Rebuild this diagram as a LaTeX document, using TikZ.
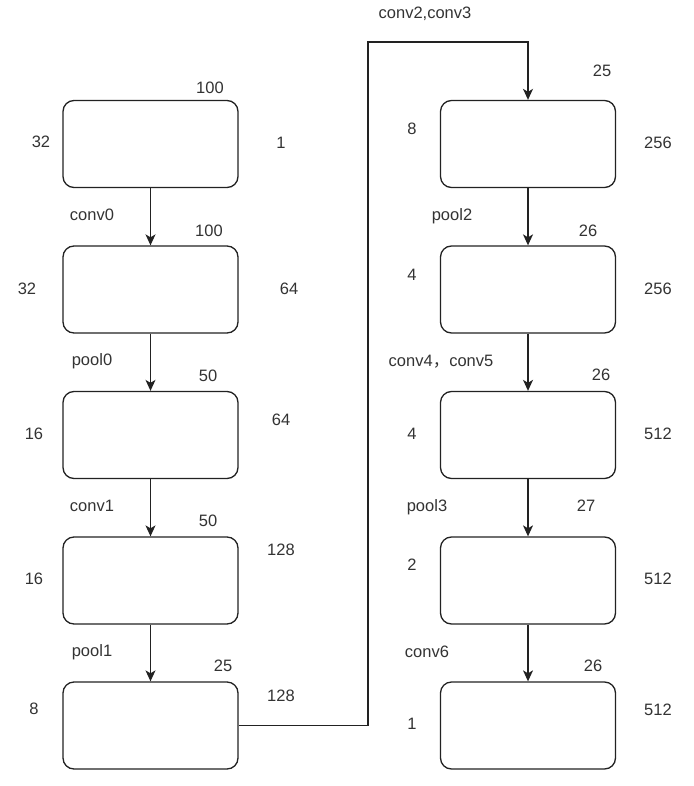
\documentclass[tikz,border=0pt]{standalone}
\usepackage{fontspec}
\setmainfont{Liberation Sans}
\newfontfamily\cjk{Noto Sans CJK SC}
\usetikzlibrary{arrows.meta}
\definecolor{ink}{HTML}{222222}
\definecolor{txt}{HTML}{333333}
\begin{document}
\begin{tikzpicture}[x=1pt,y=-1pt,
  layer/.style={draw=ink,line width=1.3pt,rounded corners=11pt,minimum width=175pt,minimum height=87pt,inner sep=0pt},
  lbl/.style={text=txt,font=\fontsize{16.5}{19}\selectfont,inner sep=0pt,anchor=center},
  flow/.style={draw=ink,line width=1.3pt,-{Stealth[length=11pt,width=10pt,inset=3pt]}}]
\useasboundingbox (0,0) rectangle (693,786);
% left column
\node[layer] (L1) at (150.5,144) {};
\node[layer] (L2) at (150.5,289.5) {};
\node[layer] (L3) at (150.5,435) {};
\node[layer] (L4) at (150.5,580.5) {};
\node[layer] (L5) at (150.5,725.5) {};
% right column
\node[layer] (R1) at (528,144) {};
\node[layer] (R2) at (528,289.5) {};
\node[layer] (R3) at (528,435) {};
\node[layer] (R4) at (528,580.5) {};
\node[layer] (R5) at (528,725.5) {};
\coordinate (up) at (368,42);
% connectors
\draw[flow] (L1) -- (L2);
\draw[flow] (L2) -- (L3);
\draw[flow] (L3) -- (L4);
\draw[flow] (L4) -- (L5);
\draw[flow] (L5.east) -| (up) -| (R1.north);
\draw[flow] (R1) -- (R2);
\draw[flow] (R2) -- (R3);
\draw[flow] (R3) -- (R4);
\draw[flow] (R4) -- (R5);
% left labels
\node[lbl] (a1) at (210,88) {100};
\node[lbl] (a2) at (41,142) {32};
\node[lbl] (a3) at (281,143) {1};
\node[lbl] (b0) at (92,215) {conv0};
\node[lbl] (b1) at (209,231) {100};
\node[lbl] (b2) at (27,289) {32};
\node[lbl] (b3) at (289,289) {64};
\node[lbl] (c0) at (92,361) {pool0};
\node[lbl] (c1) at (208,376) {50};
\node[lbl] (c2) at (34,434) {16};
\node[lbl] (c3) at (281,420) {64};
\node[lbl] (d0) at (92,506) {conv1};
\node[lbl] (d1) at (208,521) {50};
\node[lbl] (d2) at (34,579) {16};
\node[lbl] (d3) at (281,550) {128};
\node[lbl] (e0) at (92,652) {pool1};
\node[lbl] (e1) at (223,666) {25};
\node[lbl] (e2) at (34,709) {8};
\node[lbl] (e3) at (281,696) {128};
% right labels
\node[lbl] (f0) at (425,14) {conv2,conv3};
\node[lbl] (f1) at (602,71) {25};
\node[lbl] (f2) at (412,129) {8};
\node[lbl] (f3) at (658,143) {256};
\node[lbl] (g0) at (452,216) {pool2};
\node[lbl] (g1) at (588,231) {26};
\node[lbl] (g2) at (412,275) {4};
\node[lbl] (g3) at (658,289) {256};
\node[lbl] (h0) at (441,362) {conv4{\cjk ，}conv5};
\node[lbl] (h1) at (601,375) {26};
\node[lbl] (h2) at (412,434) {4};
\node[lbl] (h3) at (658,434) {512};
\node[lbl] (i0) at (427,507) {pool3};
\node[lbl] (i1) at (586,506) {27};
\node[lbl] (i2) at (412,565) {2};
\node[lbl] (i3) at (658,579) {512};
\node[lbl] (j0) at (427,652) {conv6};
\node[lbl] (j1) at (593,666) {26};
\node[lbl] (j2) at (412,724) {1};
\node[lbl] (j3) at (658,710) {512};
\end{tikzpicture}
\end{document}
